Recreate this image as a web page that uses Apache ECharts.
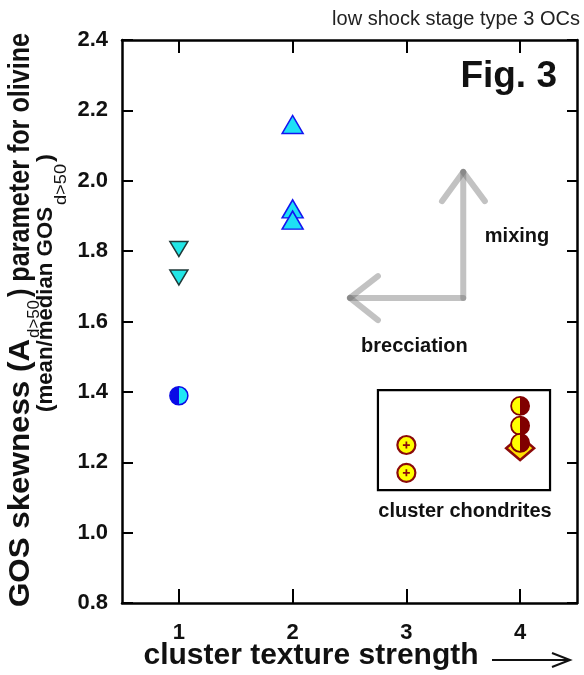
<!DOCTYPE html>
<html><head><meta charset="utf-8">
<script src="https://cdn.jsdelivr.net/npm/echarts@6/dist/echarts.min.js"></script>
<style>html,body{margin:0;padding:0;background:#fff}#c{width:584px;height:675px}</style>
</head><body><div id="c"></div>
<script>
// ---- data ----
const xTickValues = [1, 2, 3, 4];
const yMin = 0.8, yMax = 2.4, yStep = 0.2;
const xMin = 0.5, xMax = 4.5;

const invTriangleData = [[1, 1.806], [1, 1.725]];          // cyan, dark edge
const halfBlueData    = [[1, 1.389]];                      // blue/cyan half circle
const triangleData    = [[2, 2.160], [2, 1.920], [2, 1.888]]; // cyan, blue edge
const ringDotData     = [[3, 1.249], [3, 1.170]];          // yellow ring with dot
const diamondData     = [[4, 1.240]];                      // yellow diamond
const halfRedData     = [[4, 1.360], [4, 1.304], [4, 1.255]]; // yellow/dark red half circle

// annotations (data coordinates)
const arrowSegments = [
  [[2.504, 1.667], [3.5, 1.667]],
  [[3.5, 1.667], [3.5, 2.025]],
  [[3.5, 2.025], [3.313, 1.942]],
  [[3.5, 2.025], [3.69, 1.942]],
  [[2.504, 1.667], [2.75, 1.729]],
  [[2.504, 1.667], [2.75, 1.604]]
];
const clusterBox = [[2.75, 1.405], [4.263, 1.121]];
const annotationLabels = [
  { name: 'mixing', value: [3.973, 1.843] },
  { name: 'brecciation', value: [3.071, 1.530] },
  { name: 'cluster chondrites', value: [3.515, 1.059] }
];

const FONT = '"Liberation Sans", Arial, Helvetica, sans-serif';
const chart = echarts.init(document.getElementById('c'), null, { renderer: 'canvas' });

function split(c1, c2) {
  return { type: 'linear', x: 0, y: 0, x2: 1, y2: 0, colorStops: [
    { offset: 0, color: c1 }, { offset: 0.5, color: c1 },
    { offset: 0.5, color: c2 }, { offset: 1, color: c2 }] };
}

// rotated title pieces: each run starts at y0 (bottom) and spans len px upward
const mctx = document.createElement('canvas').getContext('2d');
function tw(text, font) { mctx.font = font; return mctx.measureText(text).width; }
function run(text, size, weight, baseline, y0, len) {
  const font = weight + ' ' + size + 'px ' + FONT;
  const w = tw(text, font);
  return {
    type: 'text', x: baseline - 0.33 * size, y: y0, rotation: Math.PI / 2,
    scaleX: len / w, scaleY: 1, silent: true,
    style: { text: text, font: font, fill: '#111',
      textAlign: 'left', align: 'left', textVerticalAlign: 'middle', verticalAlign: 'middle' }
  };
}
const yTitle = [
  run('GOS skewness (A', 29, 'bold', 31, 607, 268),
  run('d>50', 16, 'normal', 40, 338, 38),
  run(') parameter for olivine', 29, 'bold', 31, 297, 264),
  run('(mean/median GOS', 22, 'bold', 53, 412, 205),
  run('d>50', 17, 'normal', 67, 205, 41),
  run(')', 22, 'bold', 53, 162, 8)
];

const axisLineStyle = { color: '#000', width: 2.5 };

const option = {
  animation: false,
  backgroundColor: '#fff',
  grid: { left: 122, right: 7, top: 40, bottom: 72, containLabel: false, outerBoundsMode: 'none' },
  xAxis: [
    { type: 'value', min: xMin, max: xMax, position: 'bottom',
      axisLine: { show: true, onZero: false, lineStyle: axisLineStyle },
      axisTick: { show: true, inside: true, length: 14, customValues: xTickValues, lineStyle: { color: '#000', width: 2 } },
      axisLabel: { show: true, customValues: xTickValues, margin: 19, fontSize: 22, fontWeight: 'bold', color: '#111', fontFamily: FONT },
      splitLine: { show: false } },
    { type: 'value', min: xMin, max: xMax, position: 'top',
      axisLine: { show: true, onZero: false, lineStyle: axisLineStyle },
      axisTick: { show: true, inside: true, length: 13, customValues: xTickValues, lineStyle: { color: '#000', width: 2 } },
      axisLabel: { show: false }, splitLine: { show: false } }
  ],
  yAxis: [
    { type: 'value', min: yMin, max: yMax, interval: yStep, position: 'left',
      axisLine: { show: true, onZero: false, lineStyle: axisLineStyle },
      axisTick: { show: true, inside: true, length: 11, lineStyle: { color: '#000', width: 2 } },
      axisLabel: { show: true, margin: 14, fontSize: 22, fontWeight: 'bold', color: '#111', fontFamily: FONT,
        formatter: v => v.toFixed(1) },
      splitLine: { show: false } },
    { type: 'value', min: yMin, max: yMax, interval: yStep, position: 'right',
      axisLine: { show: true, onZero: false, lineStyle: axisLineStyle },
      axisTick: { show: true, inside: true, length: 10, lineStyle: { color: '#000', width: 2 } },
      axisLabel: { show: false }, splitLine: { show: false } }
  ],
  series: [
    ...arrowSegments.map(seg => ({
      type: 'line', data: seg, symbol: 'none', silent: true, z: 1,
      lineStyle: { width: 6, color: 'rgba(110,110,110,0.42)', cap: 'round' }
    })),
    { type: 'scatter', data: [], silent: true, z: 1,
      markArea: { silent: true, itemStyle: { color: 'rgba(0,0,0,0)', borderColor: '#000', borderWidth: 2.2 },
        label: { show: false },
        data: [[{ coord: clusterBox[0] }, { coord: clusterBox[1] }]] } },
    { type: 'scatter', data: invTriangleData, symbol: 'triangle', symbolRotate: 180, symbolSize: [18, 15], z: 3,
      itemStyle: { color: '#22E6E6', borderColor: '#203838', borderWidth: 1.5, opacity: 1 } },
    { type: 'scatter', data: triangleData, symbol: 'triangle', symbolSize: [21, 18], z: 3,
      itemStyle: { color: '#1EE0F5', borderColor: '#1414F0', borderWidth: 1.5, opacity: 1 } },
    { type: 'scatter', data: halfBlueData, symbol: 'circle', symbolSize: 18, z: 3,
      itemStyle: { color: split('#0A0AE6', '#1EE6F5'), borderColor: '#0A0AE6', borderWidth: 1.5, opacity: 1 } },
    { type: 'scatter', data: ringDotData, symbol: 'circle', symbolSize: 18, z: 3,
      itemStyle: { color: '#FFFF00', borderColor: '#8B0A0A', borderWidth: 2.2, opacity: 1 } },
    { type: 'scatter', data: ringDotData, symbol: 'path://M3,0h2v3h3v2h-3v3h-2v-3h-3v-2h3z', symbolSize: 7, z: 4,
      itemStyle: { color: '#8B0A0A', opacity: 1 } },
    { type: 'scatter', data: diamondData, symbol: 'diamond', symbolSize: [28, 24], z: 3,
      itemStyle: { color: '#FFE000', borderColor: '#8B0A0A', borderWidth: 2.5, opacity: 1 } },
    { type: 'scatter', data: halfRedData, symbol: 'circle', symbolSize: 18, z: 4,
      itemStyle: { color: split('#FFFF00', '#800000'), borderColor: '#800000', borderWidth: 1.8, opacity: 1 } },
    { type: 'scatter', data: annotationLabels, symbolSize: 0, silent: true, z: 5,
      itemStyle: { opacity: 1 },
      label: { show: true, position: 'inside', formatter: '{b}', fontSize: 20, fontWeight: 'bold',
        color: '#111', fontFamily: FONT, textBorderWidth: 0 } }
  ],
  graphic: [
    { type: 'text', x: 580, y: 19, silent: true,
      style: { text: 'low shock stage type 3 OCs', font: '20px ' + FONT, fill: '#222',
        textAlign: 'right', align: 'right', textVerticalAlign: 'middle', verticalAlign: 'middle' } },
    { type: 'text', x: 557, y: 77, silent: true,
      style: { text: 'Fig. 3', font: 'bold 37px ' + FONT, fill: '#111',
        textAlign: 'right', align: 'right', textVerticalAlign: 'middle', verticalAlign: 'middle' } },
    { type: 'text', x: 311, y: 656, silent: true,
      style: { text: 'cluster texture strength', font: 'bold 30px ' + FONT, fill: '#111',
        textAlign: 'center', align: 'center', textVerticalAlign: 'middle', verticalAlign: 'middle' } },
    { type: 'line', silent: true, shape: { x1: 492, y1: 660, x2: 569, y2: 660 }, style: { stroke: '#111', lineWidth: 2 } },
    { type: 'polyline', silent: true, shape: { points: [[552, 653], [570, 660], [552, 667]] },
      style: { stroke: '#111', lineWidth: 2, fill: null } },
    ...yTitle
  ]
};
chart.setOption(option);
</script>
</body></html>
